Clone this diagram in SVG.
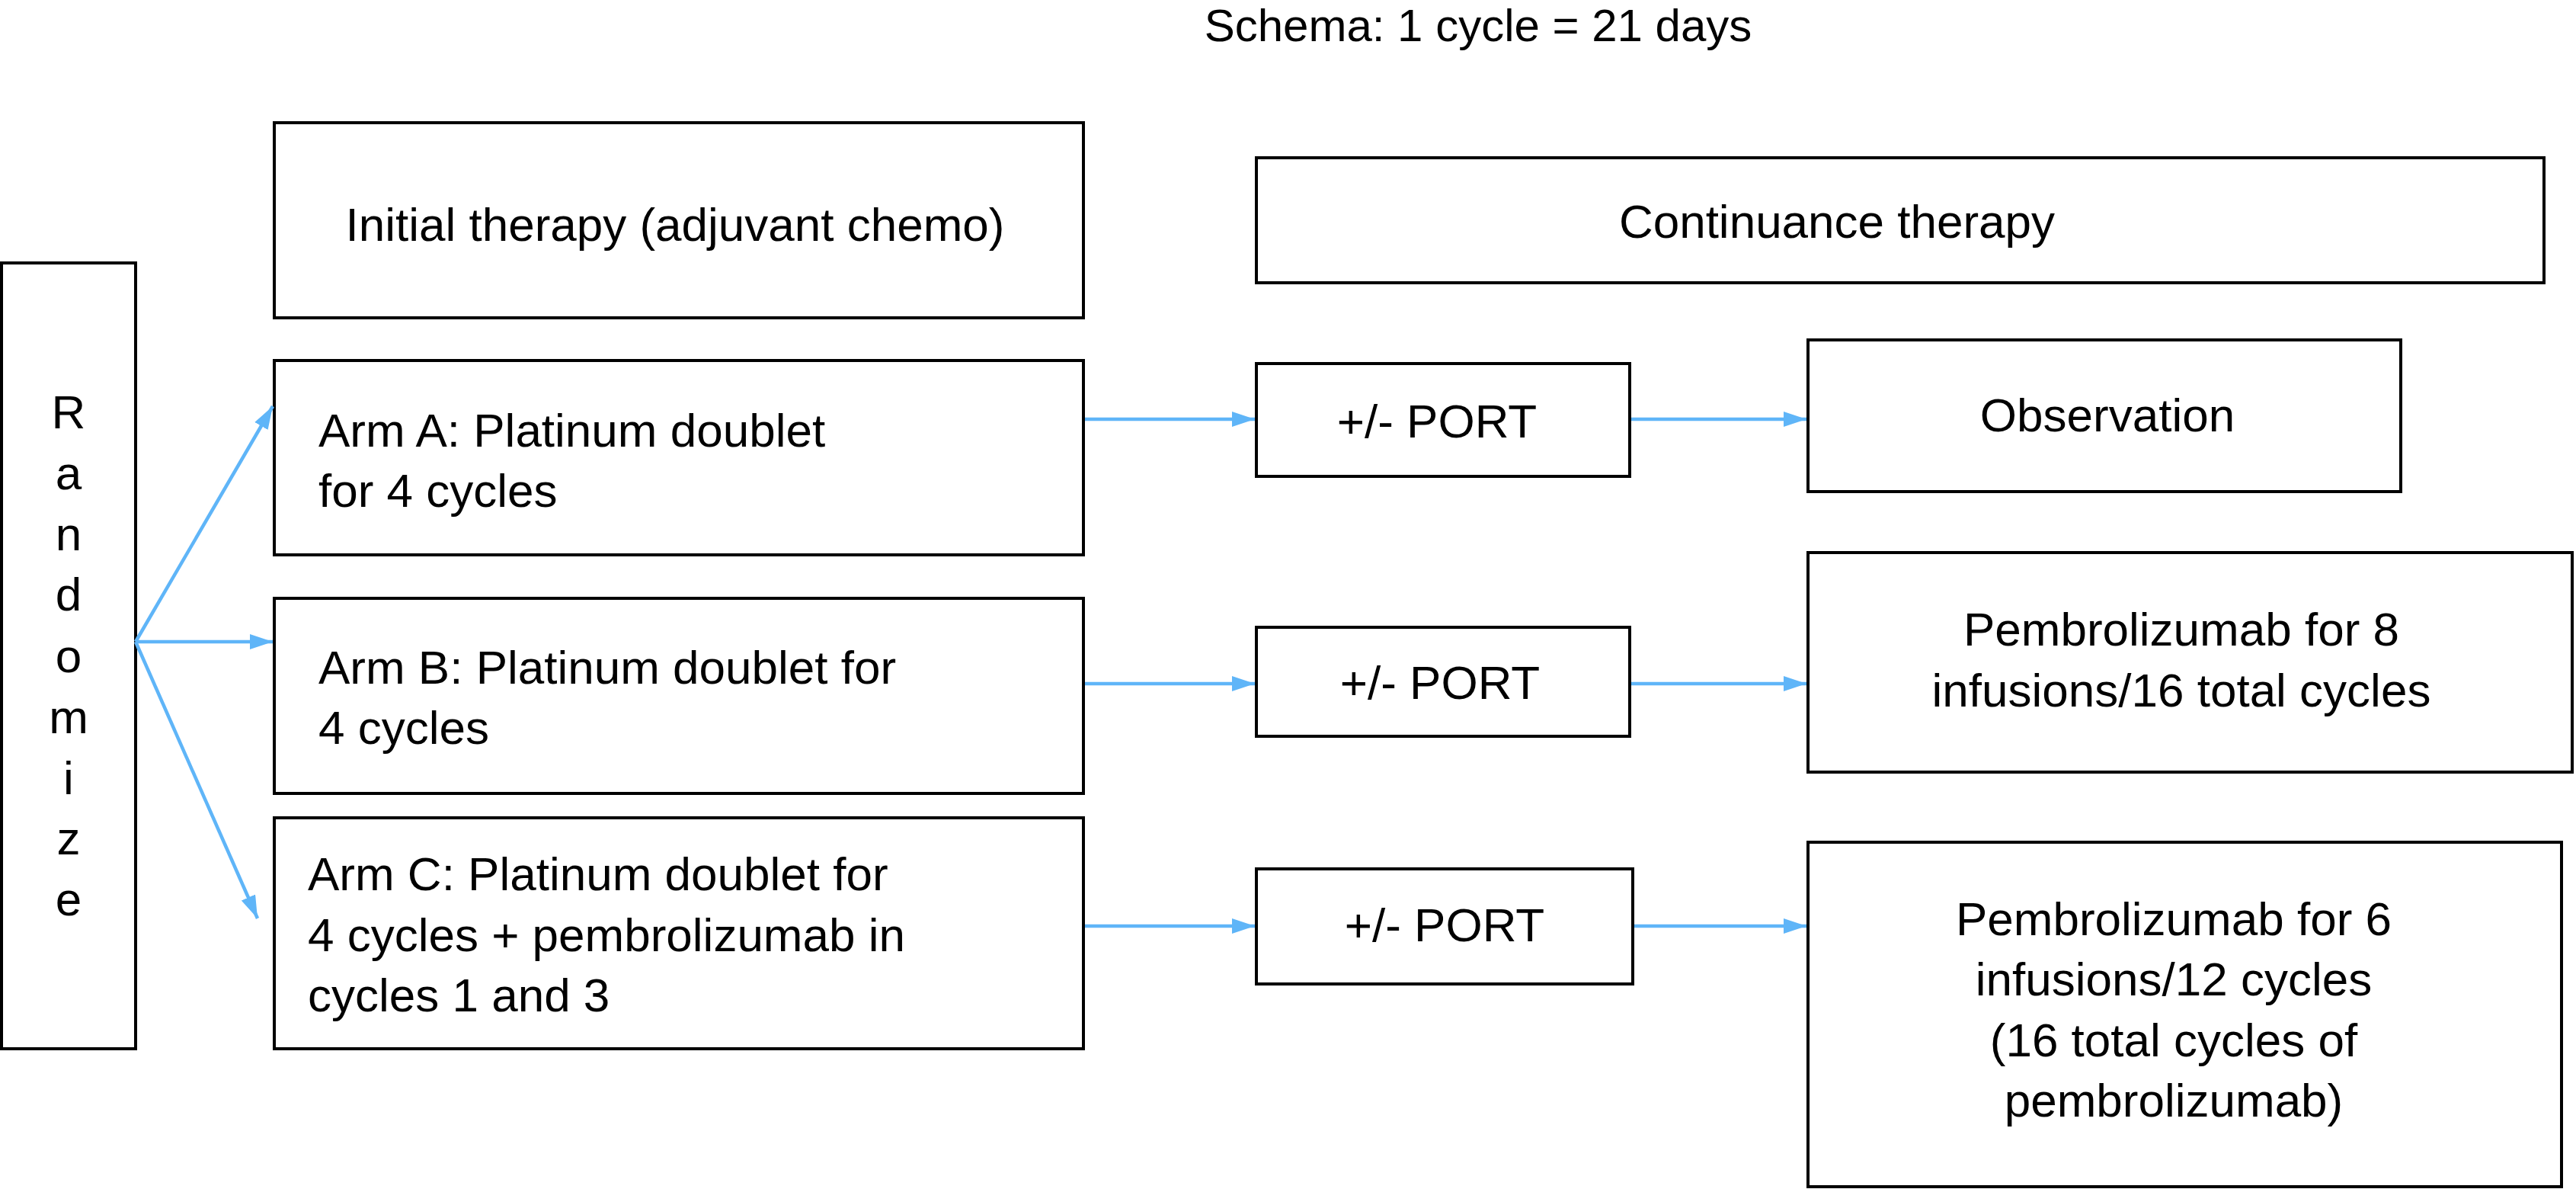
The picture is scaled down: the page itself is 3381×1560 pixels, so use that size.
<svg xmlns="http://www.w3.org/2000/svg" width="3381" height="1560" viewBox="0 0 3381 1560">
<style>
.box{fill:#fff;stroke:#000;stroke-width:4}
.t{font-family:"Liberation Sans",Arial,sans-serif;font-size:62px;fill:#000}
.m{text-anchor:middle}
.c{fill:none;stroke:#5fb5f8;stroke-width:4.5}
</style>
<defs>
<marker id="ah" markerUnits="userSpaceOnUse" markerWidth="30" markerHeight="20" refX="30" refY="10" orient="auto">
<path d="M0,0 L30,10 L0,20 z" fill="#5fb5f8"/>
</marker>
</defs>
<rect width="3381" height="1560" fill="#fff"/>
<text class="t m" x="1940" y="54" style="font-size:60px">Schema: 1 cycle = 21 days</text>
<g id="randomize">
<rect class="box" x="2" y="345" width="176" height="1031"/>
<text class="t m" x="90" y="562">R</text>
<text class="t m" x="90" y="642">a</text>
<text class="t m" x="90" y="722">n</text>
<text class="t m" x="90" y="801">d</text>
<text class="t m" x="90" y="882">o</text>
<text class="t m" x="90" y="962">m</text>
<text class="t m" x="90" y="1042">i</text>
<text class="t m" x="90" y="1121">z</text>
<text class="t m" x="90" y="1201">e</text>
</g>
<g id="initial">
<rect class="box" x="360" y="161" width="1062" height="256"/>
<text class="t m" x="886" y="316">Initial therapy (adjuvant chemo)</text>
</g>
<g id="continuance">
<rect class="box" x="1649" y="207" width="1690" height="164"/>
<text class="t m" x="2411" y="312">Continuance therapy</text>
</g>
<g id="armA">
<rect class="box" x="360" y="473" width="1062" height="255"/>
<text class="t" x="418" y="586">Arm A: Platinum doublet</text>
<text class="t" x="418" y="665">for 4 cycles</text>
</g>
<g id="armB">
<rect class="box" x="360" y="785" width="1062" height="256"/>
<text class="t" x="418" y="897">Arm B: Platinum doublet for</text>
<text class="t" x="418" y="976">4 cycles</text>
</g>
<g id="armC">
<rect class="box" x="360" y="1073" width="1062" height="303"/>
<text class="t" x="404" y="1168">Arm C: Platinum doublet for</text>
<text class="t" x="404" y="1248">4 cycles + pembrolizumab in</text>
<text class="t" x="404" y="1327">cycles 1 and 3</text>
</g>
<g id="portA">
<rect class="box" x="1649" y="477" width="490" height="148"/>
<text class="t m" x="1886" y="574">+/- PORT</text>
</g>
<g id="portB">
<rect class="box" x="1649" y="823" width="490" height="143"/>
<text class="t m" x="1890" y="917">+/- PORT</text>
</g>
<g id="portC">
<rect class="box" x="1649" y="1140" width="494" height="151"/>
<text class="t m" x="1896" y="1235">+/- PORT</text>
</g>
<g id="observation">
<rect class="box" x="2373" y="446" width="778" height="199"/>
<text class="t m" x="2766" y="566">Observation</text>
</g>
<g id="pembro8">
<rect class="box" x="2373" y="725" width="1003" height="288"/>
<text class="t m" x="2863" y="847">Pembrolizumab for 8</text>
<text class="t m" x="2863" y="927">infusions/16 total cycles</text>
</g>
<g id="pembro6">
<rect class="box" x="2373" y="1105" width="989" height="452"/>
<text class="t m" x="2853" y="1227">Pembrolizumab for 6</text>
<text class="t m" x="2853" y="1306">infusions/12 cycles</text>
<text class="t m" x="2853" y="1386">(16 total cycles of</text>
<text class="t m" x="2853" y="1465">pembrolizumab)</text>
</g>
<g id="connectors">
<line class="c" x1="178" y1="842" x2="358" y2="533" marker-end="url(#ah)"/>
<line class="c" x1="178" y1="842" x2="358" y2="842" marker-end="url(#ah)"/>
<line class="c" x1="178" y1="842" x2="338" y2="1205" marker-end="url(#ah)"/>
<line class="c" x1="1424" y1="550" x2="1647" y2="550" marker-end="url(#ah)"/>
<line class="c" x1="2141" y1="550" x2="2371" y2="550" marker-end="url(#ah)"/>
<line class="c" x1="1424" y1="897" x2="1647" y2="897" marker-end="url(#ah)"/>
<line class="c" x1="2141" y1="897" x2="2371" y2="897" marker-end="url(#ah)"/>
<line class="c" x1="1424" y1="1215" x2="1647" y2="1215" marker-end="url(#ah)"/>
<line class="c" x1="2145" y1="1215" x2="2371" y2="1215" marker-end="url(#ah)"/>
</g>
</svg>
